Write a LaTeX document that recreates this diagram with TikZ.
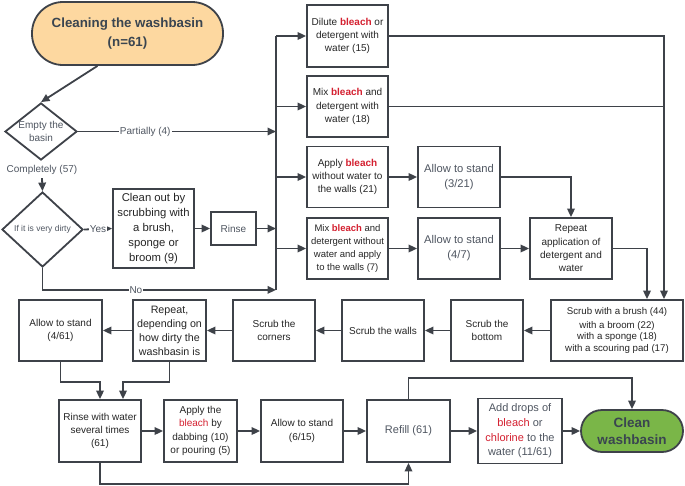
\documentclass[tikz,border=0pt]{standalone}
\usepackage{fontspec}
\setmainfont{Liberation Sans}
\usetikzlibrary{arrows.meta,shapes.geometric,calc}
\definecolor{linec}{HTML}{3E4249}
\definecolor{txt}{HTML}{262626}
\definecolor{gtxt}{HTML}{4F5661}
\definecolor{slate}{HTML}{3A4550}
\definecolor{bred}{HTML}{D42030}
\definecolor{orng}{HTML}{FDD8A0}
\definecolor{grn}{HTML}{7AB648}
\newcommand{\fsz}[2]{\fontsize{#1}{#2}\selectfont}
\newcommand{\bl}{\textcolor{bred}{\textbf{bleach}}}
\newcommand{\rd}[1]{\textcolor{bred}{#1}}
\tikzset{
  box/.style={draw=linec, line width=1.8pt, fill=white, align=center, inner sep=1pt,
    text=txt, font=\fsz{10}{13.3}},
  dia/.style={draw=linec, line width=1.8pt, fill=white, diamond, inner sep=0pt, shape aspect=1},
  arr/.style={draw=linec, line width=1.8pt, -{Triangle[length=8.5pt,width=7.5pt]}},
  ln/.style={draw=linec, line width=1.8pt},
  lbl/.style={fill=white, inner sep=1pt, text=gtxt, font=\fsz{10}{12}},
}
\begin{document}
\begin{tikzpicture}[x=1pt,y=-1pt]
\useasboundingbox (0,0) rectangle (685,485);
% start
\node[box, fill=orng, rounded corners=31pt, minimum width=191pt, minimum height=63pt, text=slate,
  font=\fsz{13.3}{19}\bfseries] (start) at (127.5,33.5) {Cleaning the washbasin\\(n=61)};
% diamonds
\node[dia, minimum width=72pt, minimum height=57pt] (d1) at (41,131.5) {};
\node[text=gtxt, align=center, font=\fsz{10}{13}] (d1t) at (41,131.5) {Empty the\\basin};
\node[text=gtxt, font=\fsz{10}{12}] (compl) at (42,170) {Completely (57)};
\node[dia, minimum width=81pt, minimum height=75pt] (d2) at (42.5,229.5) {};
\node[text=gtxt, font=\fsz{8.5}{10}] (d2t) at (42.5,229.5) {If it is very dirty};
% left middle
\node[box, minimum width=81pt, minimum height=79pt, font=\fsz{11.3}{15}] (clean1) at (153.5,228.5)
  {Clean out by\\scrubbing with\\a brush,\\sponge or\\broom (9)};
\node[box, minimum width=45pt, minimum height=33pt, text=gtxt] (rinse1) at (233.5,228.5) {Rinse};
\coordinate (bus) at (276,0);
% right column
\node[box, minimum width=81pt, minimum height=62pt] (b1) at (347.5,36) {Dilute \bl{} or\\detergent with\\water (15)};
\node[box, minimum width=81pt, minimum height=61pt] (b2) at (347.5,106.5) {Mix \bl{} and\\detergent with\\water (18)};
\node[box, minimum width=81pt, minimum height=61pt] (b3) at (347.5,177) {Apply \bl\\without water to\\the walls (21)};
\node[box, minimum width=81pt, minimum height=61pt, font=\fsz{9.5}{13.3}] (b4) at (347.5,248.5)
  {Mix \bl{} and\\detergent without\\water and apply\\to the walls (7)};
\node[box, minimum width=82pt, minimum height=61pt, text=gtxt, font=\fsz{11.2}{15}] (s1) at (459,177) {Allow to stand\\(3/21)};
\node[box, minimum width=82pt, minimum height=61pt, text=gtxt, font=\fsz{11.2}{15}] (s2) at (459,248.5) {Allow to stand\\(4/7)};
\node[box, minimum width=82pt, minimum height=61pt] (rep) at (571,248.5) {Repeat\\application of\\detergent and\\water};
% scrub row
\node[box, minimum width=132pt, minimum height=61pt, font=\fsz{9.7}{11.8}] (scrub) at (617,330.5)
  {Scrub with a brush (44)\\[2pt]with a broom (22)\\with a sponge (18)\\with a scouring pad (17)};
\node[box, minimum width=72pt, minimum height=61pt] (bottom) at (487,330.5) {Scrub the\\bottom};
\node[box, minimum width=82pt, minimum height=61pt] (walls) at (383,330.5) {Scrub the walls};
\node[box, minimum width=82pt, minimum height=61pt] (corners) at (274,330.5) {Scrub the\\corners};
\node[box, minimum width=73pt, minimum height=61pt, font=\fsz{10.7}{14}] (rep2) at (169.5,330.5)
  {Repeat,\\depending on\\how dirty the\\washbasin is};
\node[box, minimum width=83pt, minimum height=61pt, font=\fsz{10}{13.7}] (allow61) at (60.5,330.5) {Allow to stand\\(4/61)};
% bottom row
\node[box, minimum width=82pt, minimum height=62pt] (rinse2) at (100,431) {Rinse with water\\several times\\(61)};
\node[box, minimum width=73pt, minimum height=62pt] (apply) at (200.5,431) {Apply the\\\rd{bleach} by\\dabbing (10)\\or pouring (5)};
\node[box, minimum width=82pt, minimum height=62pt] (allow15) at (302,431) {Allow to stand\\(6/15)};
\node[box, minimum width=83pt, minimum height=62pt, text=gtxt, font=\fsz{11}{14.7}] (refill) at (408.5,431) {Refill (61)};
\node[box, minimum width=84pt, minimum height=65pt, text=gtxt, font=\fsz{11}{14.7}] (add) at (520,431)
  {Add drops of\\\rd{bleach} or\\\rd{chlorine} to the\\water (11/61)};
\node[box, fill=grn, rounded corners=21pt, minimum width=102pt, minimum height=42pt, text=slate,
  font=\fsz{13.5}{17}\bfseries] (clean) at (632,431) {Clean\\washbasin};
% connectors
\draw[arr] ($(start.south)+(-30,0)$) -- (d1.north);
\draw[arr] (d1.east) -- node[lbl, pos=0.34] {Partially (4)} (d1.east -| bus);
\draw[arr] (compl.south) -- (d2.north);
\draw[arr] (d2.east) -- node[lbl, pos=0.5] {Yes} (clean1.west);
\draw[arr] (clean1.east) -- (rinse1.west);
\draw[arr] (rinse1.east) -- (rinse1.east -| bus);
\draw[arr] (d2.south) -- ++(0,22) -- node[lbl, pos=0.4] {No} ($(d2.south -| bus)+(0,22)$);
\draw[ln] (b1.west -| bus) -- ($(d2.south -| bus)+(0,22)$);
\draw[arr] (b1.west -| bus) -- (b1.west);
\draw[arr] (b2.west -| bus) -- (b2.west);
\draw[arr] (b3.west -| bus) -- (b3.west);
\draw[arr] (b4.west -| bus) -- (b4.west);
\draw[arr] (b3.east) -- (s1.west);
\draw[arr] (b4.east) -- (s2.west);
\draw[arr] (s2.east) -- (rep.west);
\draw[arr] (s1.east) -| (rep.north);
\draw[arr] (rep.east) -| ($(scrub.north)+(30,0)$);
\draw[arr] (b1.east) -| ($(scrub.north)+(47,0)$);
\draw[ln] (b2.east) -- (b2.east -| {$(scrub.north)+(47,0)$});
\draw[arr] (scrub.west) -- (bottom.east);
\draw[arr] (bottom.west) -- (walls.east);
\draw[arr] (walls.west) -- (corners.east);
\draw[arr] (corners.west) -- (rep2.east);
\draw[arr] (rep2.west) -- (allow61.east);
\draw[arr] (allow61.south) -- ++(0,20) -| (rinse2.north);
\draw[arr] (rep2.south) -- ++(0,20) -| ($(rinse2.north)+(23,0)$);
\draw[arr] (rinse2.east) -- (apply.west);
\draw[arr] (apply.east) -- (allow15.west);
\draw[arr] (allow15.east) -- (refill.west);
\draw[arr] (refill.east) -- (add.west);
\draw[arr] (add.east) -- (clean.west);
\draw[arr] (rinse2.south) -- ++(0,21) -| (refill.south);
\draw[arr] (refill.north) -- ++(0,-21) -| (clean.north);
\end{tikzpicture}
\end{document}
